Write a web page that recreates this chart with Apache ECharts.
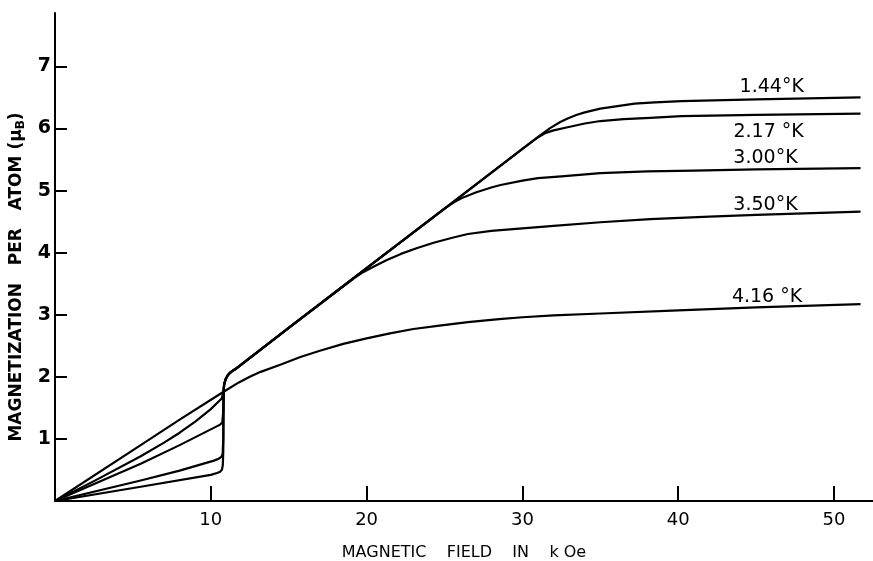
<!DOCTYPE html>
<html>
<head>
<meta charset="utf-8">
<script src="https://cdn.jsdelivr.net/npm/echarts@6/dist/echarts.min.js"></script>
<style>
html,body{margin:0;padding:0;background:#fff;}
#chart{width:873px;height:561px;}
</style>
</head>
<body>
<div id="chart"></div>
<script>
// Tick values
var xTicks = [10, 20, 30, 40, 50];
var yTicks = [1, 2, 3, 4, 5, 6, 7];

// Series names (temperatures)
var seriesNames = ['1.44°K', '2.17 °K', '3.00°K', '3.50°K', '4.16 °K'];

// Magnetization curves: [field kOe, moment μB]
var m144 = [[0,0],[5.5,0.23],[10.0,0.42],[10.4,0.45],[10.6,0.47],[10.72,0.51],[10.77,0.58],[10.8,0.8],[10.82,1.75],[10.85,1.87],[10.95,1.96],[11.1,2.03],[11.3,2.08],[11.6,2.13],[15,2.79],[20,3.75],[25,4.71],[30,5.67],[31.2,5.90],[31.8,6.01],[32.4,6.10],[32.9,6.16],[33.5,6.22],[34.0,6.26],[35.0,6.32],[36.1,6.36],[37.2,6.40],[38.5,6.42],[40.2,6.44],[45,6.47],[51.7,6.50]];
var m217 = [[0,0],[5.5,0.33],[8.0,0.49],[10.2,0.65],[10.5,0.68],[10.68,0.71],[10.76,0.76],[10.8,1.0],[10.82,1.75],[10.85,1.87],[10.95,1.96],[11.1,2.03],[11.3,2.08],[11.6,2.13],[15,2.79],[20,3.75],[25,4.71],[30,5.67],[31.0,5.86],[31.5,5.93],[32.0,5.97],[32.9,6.02],[34,6.08],[35,6.12],[36.5,6.15],[38.2,6.17],[40.2,6.20],[45,6.22],[51.7,6.24]];
var m300 = [[0,0],[5.5,0.60],[8.0,0.90],[10.6,1.23],[10.74,1.27],[10.8,1.45],[10.83,1.78],[10.85,1.87],[10.95,1.96],[11.1,2.03],[11.3,2.08],[11.6,2.13],[15,2.79],[20,3.75],[25,4.71],[25.6,4.81],[26.2,4.89],[27,4.97],[28,5.05],[28.6,5.09],[30,5.16],[31,5.20],[32.5,5.23],[35,5.28],[38,5.31],[41,5.32],[45,5.34],[51.7,5.36]];
var m350 = [[0,0],[2.5,0.32],[5.5,0.72],[7.0,0.94],[8.0,1.10],[9.0,1.28],[10.0,1.48],[10.7,1.65],[10.82,1.77],[10.86,1.88],[10.95,1.96],[11.1,2.03],[11.3,2.08],[11.6,2.13],[15,2.79],[19.2,3.59],[19.8,3.69],[20.5,3.78],[21.3,3.88],[22.2,3.98],[23.2,4.07],[24.3,4.16],[25.5,4.24],[26.5,4.30],[28,4.35],[30,4.39],[32,4.43],[35,4.49],[38.2,4.54],[42,4.58],[45,4.61],[51.7,4.66]];
var m416 = [[0,0],[5.5,0.90],[8.0,1.31],[10.82,1.76],[11.8,1.91],[12.5,2.00],[13.2,2.08],[14.5,2.20],[15.75,2.32],[17,2.42],[18.5,2.53],[20,2.62],[21.5,2.70],[23,2.77],[24.8,2.83],[26.5,2.88],[28.5,2.93],[30,2.96],[32,2.99],[35,3.02],[40,3.07],[45,3.12],[51.7,3.17]];

// Curve label anchor points (data units)
var labelX = [46.0, 45.8, 45.6, 45.6, 45.7];
var labelY = [6.66, 5.95, 5.52, 4.76, 3.28];

var curves = [m144, m217, m300, m350, m416];

var FONT = 'DejaVu Sans';

var series = curves.map(function (d, i) {
  return {
    name: seriesNames[i],
    type: 'line',
    data: d,
    showSymbol: false,
    smooth: false,
    lineStyle: {color: '#000', width: 2.2, join: 'round'},
    itemStyle: {color: '#000'},
    z: 3,
    markPoint: {
      symbol: 'circle',
      symbolSize: 0,
      itemStyle: {color: 'rgba(0,0,0,0)'},
      label: {show: true, position: 'inside', color: '#000', fontFamily: FONT, fontSize: 19, formatter: seriesNames[i]},
      data: [{coord: [labelX[i], labelY[i]]}]
    }
  };
});

var chart = echarts.init(document.getElementById('chart'), null, {renderer: 'canvas'});
chart.setOption({
  backgroundColor: '#fff',
  animation: false,
  grid: {left: 55, right: 0, top: 13, bottom: 60, containLabel: false, outerBoundsMode: 'none'},
  xAxis: {
    type: 'value',
    min: 0, max: 52.5, interval: 10,
    name: 'MAGNETIC    FIELD    IN    k Oe',
    nameLocation: 'middle',
    nameGap: 44,
    nameTextStyle: {color: '#000', fontFamily: FONT, fontSize: 16},
    axisLine: {show: true, lineStyle: {color: '#000', width: 2}},
    axisTick: {show: true, inside: true, length: 15, customValues: xTicks, lineStyle: {color: '#000', width: 2}},
    axisLabel: {color: '#000', fontFamily: FONT, fontSize: 18, margin: 10, customValues: xTicks},
    splitLine: {show: false}
  },
  yAxis: {
    type: 'value',
    min: 0, max: 7.86, interval: 1,
    name: 'MAGNETIZATION   PER   ATOM {p|(μ}{s|B}{p|)}',
    nameLocation: 'middle',
    nameGap: 21,
    nameTextStyle: {color: '#000', fontFamily: FONT, fontSize: 17, fontWeight: 'bold', padding: [0, 40, 0, 0],
      rich: {p: {fontFamily: FONT, fontSize: 17, fontWeight: 'bold', color: '#000'},
             s: {fontFamily: FONT, fontSize: 12, fontWeight: 'bold', color: '#000', verticalAlign: 'bottom', padding: [8, 0, 0, 0]}}},
    axisLine: {show: true, lineStyle: {color: '#000', width: 2}},
    axisTick: {show: true, inside: true, length: 12, customValues: yTicks, lineStyle: {color: '#000', width: 2}},
    axisLabel: {color: '#000', fontFamily: FONT, fontSize: 19, fontWeight: 'bold', margin: 4, customValues: yTicks},
    splitLine: {show: false}
  },
  series: series
});
</script>
</body>
</html>
